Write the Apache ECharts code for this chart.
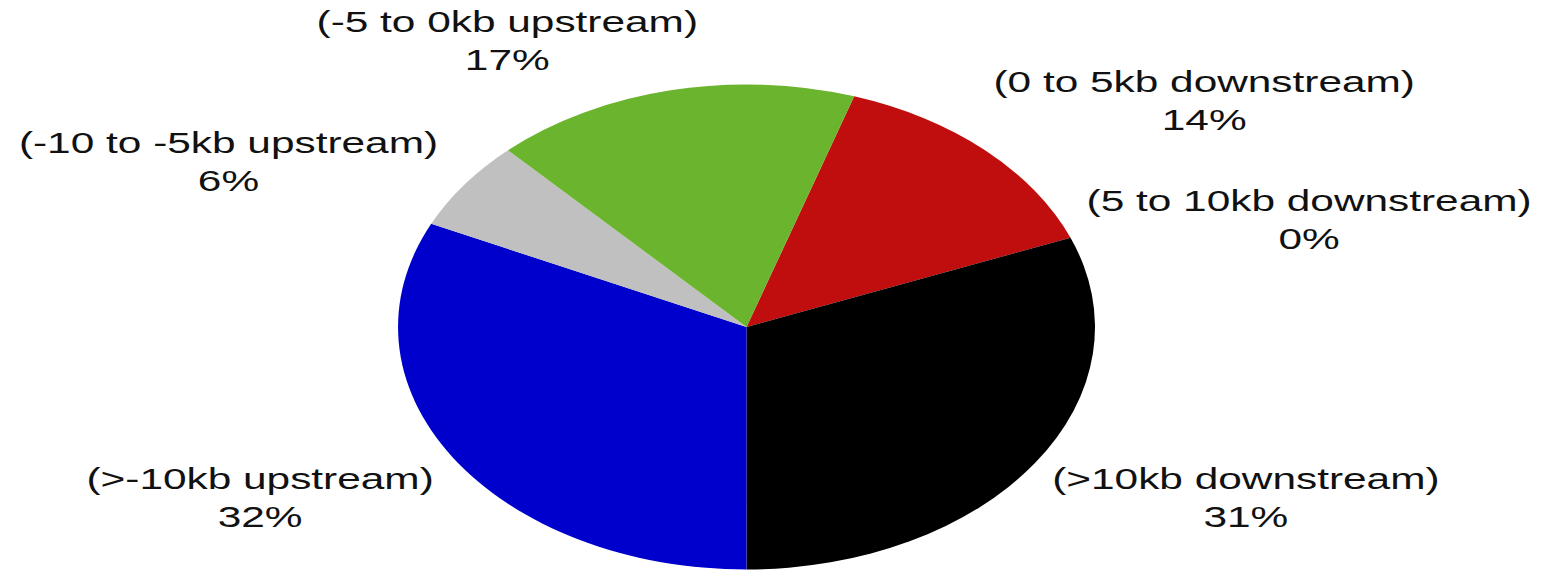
<!DOCTYPE html>
<html>
<head>
<meta charset="utf-8">
<script src="https://cdn.jsdelivr.net/npm/echarts@6/dist/echarts.min.js"></script>
<style>
  html, body { margin: 0; padding: 0; background: #fff; overflow: hidden; }
  #wrap { width: 1542px; height: 572px; position: relative; overflow: hidden; }
  /* the figure is drawn round, then widened into an oval */
  #chart { width: 1073px; height: 572px; transform: scaleX(1.437); transform-origin: 0 0; }
</style>
</head>
<body>
<div id="wrap"><div id="chart"></div></div>
<script>
// Distance of sites from the gene, share of all sites (%)
const categories = [
  '(0 to 5kb downstream)',
  '(5 to 10kb downstream)',
  '(>10kb downstream)',
  '(>-10kb upstream)',
  '(-10 to -5kb upstream)',
  '(-5 to 0kb upstream)'
];
const shares = [14, 0, 31, 32, 6, 17];
const sliceColors = ['#c00e0e', '#8a8a8a', '#000000', '#0000cc', '#c0c0c0', '#6ab42e'];

// label anchor points (centre of the two-line label), in chart pixels
const labelSpots = [
  [838, 101],
  [911, 220],
  [867, 498],
  [181, 498],
  [159, 162],
  [353, 41]
];

const chart = echarts.init(document.getElementById('chart'), null, { renderer: 'svg' });

chart.setOption({
  animation: false,
  series: [{
    type: 'pie',
    center: [519.5, 327],
    radius: [0, 242.5],
    startAngle: 72,
    clockwise: true,
    avoidLabelOverlap: false,
    stillShowZeroSum: true,
    minShowLabelAngle: 0,
    data: categories.map((name, i) => ({
      name: name,
      value: shares[i],
      itemStyle: { color: sliceColors[i] }
    })),
    itemStyle: { borderWidth: 0 },
    label: {
      show: true,
      formatter: p => p.name + '\n' + p.value + '%',
      fontFamily: '"Liberation Sans", Arial, sans-serif',
      fontSize: 29.5,
      lineHeight: 38.5,
      color: '#111',
      align: 'center'
    },
    labelLine: { show: false },
    labelLayout: function (params) {
      const spot = labelSpots[params.dataIndex];
      return {
        x: spot[0],
        y: spot[1],
        align: 'center',
        verticalAlign: 'middle'
      };
    },
    emphasis: { disabled: true }
  }]
});
</script>
</body>
</html>
